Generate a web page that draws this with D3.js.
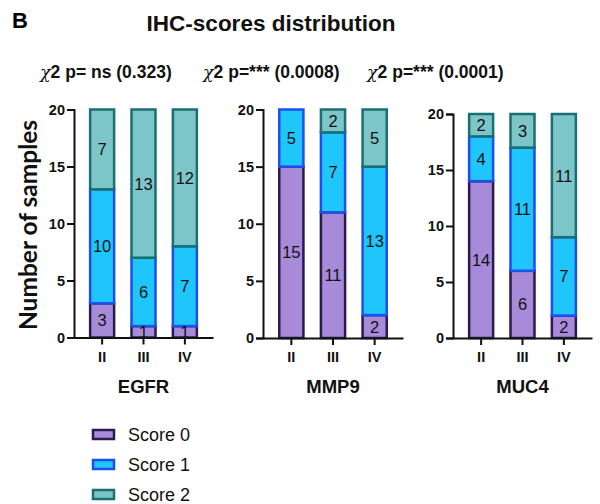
<!DOCTYPE html>
<html><head><meta charset="utf-8">
<script src="https://cdn.jsdelivr.net/npm/d3@7"></script>
<style>body{margin:0;background:#fff}svg{display:block}text{font-family:Arial,"Liberation Sans",sans-serif}</style>
</head><body><svg id="c" width="600" height="504"></svg>
<script>
const stages = ["II", "III", "IV"];
const markers = ["EGFR", "MMP9", "MUC4"];
const pTexts = ["p= ns (0.323)", "p=*** (0.0008)", "p=*** (0.0001)"];
const scoreNames = ["Score 0", "Score 1", "Score 2"];
const yTicks = [0, 5, 10, 15, 20];
// counts per stage, per score
const egfrScore0 = [3, 1, 1], egfrScore1 = [10, 6, 7], egfrScore2 = [7, 13, 12];
const mmp9Score0 = [15, 11, 2], mmp9Score1 = [5, 7, 13], mmp9Score2 = [0, 2, 5];
const muc4Score0 = [14, 6, 2], muc4Score1 = [4, 11, 7], muc4Score2 = [2, 3, 11];

const fills = ["#a78bd9", "#1fc6fb", "#7cc5c9"];
const strokes = ["#2b1a4d", "#1d4ff0", "#1b6f72"];

const series = [
  [egfrScore0, egfrScore1, egfrScore2],
  [mmp9Score0, mmp9Score1, mmp9Score2],
  [muc4Score0, muc4Score1, muc4Score2]
];
const layout = [
  {x0: 74, x1: 213, yTop: 109.5, yBot: 337.5, pX: 40},
  {x0: 263, x1: 403, yTop: 109.5, yBot: 338, pX: 203},
  {x0: 453, x1: 592, yTop: 114, yBot: 338, pX: 367}
];

const svg = d3.select("#c");
svg.append("text").attr("x", 12).attr("y", 28).attr("font-size", 22).attr("font-weight", "bold").text("B");
svg.append("text").attr("x", 271).attr("y", 31).attr("text-anchor", "middle").attr("font-size", 22.5).attr("font-weight", "bold").attr("fill", "#111").text("IHC-scores distribution");

svg.append("text").attr("transform", "translate(37,225) rotate(-90)").attr("text-anchor", "middle")
  .style("font-family", "Lato,'Open Sans',sans-serif")
  .attr("font-size", 24.5).attr("font-weight", "bold").attr("fill", "#111").text("Number of samples");

series.forEach((sr, pi) => {
  const L = layout[pi];
  const rows = stages.map((s, i) => ({stage: s, s0: sr[0][i], s1: sr[1][i], s2: sr[2][i]}));
  const stacked = d3.stack().keys(["s0", "s1", "s2"])(rows);
  const x = d3.scaleBand().domain(stages).range([L.x0, L.x1]).paddingInner(0.42).paddingOuter(0.39);
  const y = d3.scaleLinear().domain([0, 20]).range([L.yBot, L.yTop]);
  const g = svg.append("g");

  // p-value title
  const t = g.append("text").attr("x", L.pX).attr("y", 78).attr("font-size", 17.5).attr("font-weight", "bold").attr("fill", "#111");
  t.append("tspan").attr("font-style", "italic").attr("font-weight", "normal").style("font-family", "'DejaVu Serif',serif").text("χ");
  t.append("tspan").text("2 " + pTexts[pi]);

  stacked.forEach((layer, k) => {
    layer.forEach((d, i) => {
      if (d[1] - d[0] <= 0) return;
      g.append("rect").attr("x", x(stages[i])).attr("width", x.bandwidth())
        .attr("y", y(d[1])).attr("height", y(d[0]) - y(d[1]))
        .attr("fill", fills[k]).attr("stroke", strokes[k]).attr("stroke-width", 2.5);
    });
  });
  stacked.forEach((layer, k) => {
    layer.forEach((d, i) => {
      const v = d[1] - d[0];
      if (v <= 0) return;
      g.append("text").attr("x", x(stages[i]) + x.bandwidth() / 2).attr("y", (y(d[0]) + y(d[1])) / 2)
        .attr("dy", "0.36em").attr("text-anchor", "middle").attr("font-size", 16.5).attr("fill", "#111").text(v);
    });
  });

  const ya = g.append("g").attr("transform", `translate(${L.x0},0)`)
    .call(d3.axisLeft(y).tickValues(yTicks).tickSize(7).tickPadding(2));
  ya.select(".domain").attr("stroke", "#111").attr("stroke-width", 2);
  ya.selectAll(".tick line").attr("stroke", "#111").attr("stroke-width", 2);
  ya.selectAll("text").attr("font-size", 14.5).attr("font-weight", "bold").attr("fill", "#111").style("font-family", "Arial,'Liberation Sans',sans-serif");

  const xa = g.append("g").attr("transform", `translate(0,${L.yBot})`)
    .call(d3.axisBottom(x).tickSize(7).tickPadding(7).tickSizeOuter(0));
  xa.select(".domain").attr("stroke", "#111").attr("stroke-width", 2);
  xa.selectAll(".tick line").attr("stroke", "#111").attr("stroke-width", 2);
  xa.selectAll("text").attr("font-size", 14.5).attr("font-weight", "bold").attr("fill", "#111").style("font-family", "Arial,'Liberation Sans',sans-serif");

  g.append("text").attr("x", (L.x0 + L.x1) / 2).attr("y", 393).attr("text-anchor", "middle")
    .attr("font-size", 18.5).attr("font-weight", "bold").attr("fill", "#111").text(markers[pi]);
});

const lg = svg.append("g");
scoreNames.forEach((n, k) => {
  const cy = 435 + k * 30;
  lg.append("rect").attr("x", 93).attr("y", cy - 5).attr("width", 21).attr("height", 9)
    .attr("fill", fills[k]).attr("stroke", strokes[k]).attr("stroke-width", 2.5);
  lg.append("text").attr("x", 128).attr("y", cy).attr("dy", "0.36em").attr("font-size", 18).attr("fill", "#111").text(n);
});
</script></body></html>
